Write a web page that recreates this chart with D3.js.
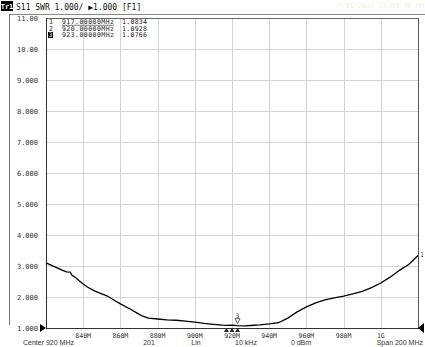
<!DOCTYPE html>
<html><head><meta charset="utf-8">
<script src="https://cdn.jsdelivr.net/npm/d3@7/dist/d3.min.js"></script>
<style>body{margin:0;background:#fff}svg{display:block}</style>
</head><body>
<script>
// ---- data ----
const freqMHz = [820,823,826,829,831,833,834,836,838,840,842,846,850,853,856,860,865,869,872,875,880,885,890,895,900,905,910,915,917,920,923,927,930,935,940,945,950,955,960,965,970,975,980,985,990,995,1000,1005,1010,1015,1020];
const swr     = [3.10,3.02,2.94,2.86,2.81,2.80,2.70,2.62,2.52,2.42,2.33,2.20,2.10,2.03,1.92,1.78,1.62,1.48,1.38,1.32,1.29,1.26,1.25,1.22,1.19,1.15,1.12,1.09,1.0834,1.0928,1.0766,1.07,1.08,1.10,1.13,1.17,1.32,1.52,1.68,1.81,1.91,1.97,2.03,2.10,2.18,2.30,2.45,2.64,2.86,3.05,3.34];
const yTicks = [1,2,3,4,5,6,7,8,9,10,11];
const yTickLabels = ["1.000","2.000","3.000","4.000","5.000","6.000","7.000","8.000","9.000","10.00","11.00"];
const xTicks = [840,860,880,900,920,940,960,980,1000];
const xTickLabels = ["840M","860M","880M","900M","920M","940M","960M","980M","1G"];
const markerIds = ["1","2","3"];
const markerFreqs = [917,920,923];
const markerFreqText = ["917.00000MHz","920.00000MHz","923.00000MHz"];
const markerVals = [1.0834,1.0928,1.0766];
const footerTexts = ["Center 920 MHz","201","Lin","10 kHz","0 dBm","Span 200 MHz"];

const W=425,H=347;
const svg=d3.select("body").append("svg").attr("width",W).attr("height",H);
const x=d3.scaleLinear().domain([820,1020]).range([46,418]);
const y=d3.scaleLinear().domain([1,11]).range([328,18]);
const mono="'DejaVu Sans Mono', monospace";
const sans="'Liberation Sans', Arial, sans-serif";

// outer frame lines
svg.append("line").attr("x1",9).attr("x2",425).attr("y1",14.5).attr("y2",14.5).attr("stroke","#888");
svg.append("line").attr("x1",9.5).attr("x2",9.5).attr("y1",14).attr("y2",325).attr("stroke","#777");

// header
svg.append("rect").attr("x",1).attr("y",1).attr("width",12).attr("height",10).attr("fill","#000");
svg.append("text").attr("x",7).attr("y",9).attr("text-anchor","middle").attr("font-family",mono).attr("font-size",7).attr("font-weight","bold").attr("fill","#fff").text("Tr1");
svg.append("text").attr("x",16).attr("y",9.5).attr("font-family",mono).attr("font-size",8).attr("fill","#111").text("S11 SWR 1.000/ \u25B61.000 [F1]");
svg.append("text").attr("x",337).attr("y",8).attr("font-family",mono).attr("font-size",7).attr("fill","#f3f0d6").attr("textLength",87).text("7/31/2015 12:09:38 PM");

// grid
const g=svg.append("g");
g.selectAll(".hg").data(yTicks.slice(1,-1)).join("line")
  .attr("x1",46).attr("x2",418).attr("y1",d=>Math.round(y(d))+0.5).attr("y2",d=>Math.round(y(d))+0.5)
  .attr("stroke","#d4d4d4");
g.selectAll(".vg").data(xTicks).join("line")
  .attr("y1",18).attr("y2",328).attr("x1",d=>Math.round(x(d))+0.5).attr("x2",d=>Math.round(x(d))+0.5)
  .attr("stroke","#d4d4d4");

// plot border
svg.append("line").attr("x1",46).attr("x2",418).attr("y1",18.5).attr("y2",18.5).attr("stroke","#666");
svg.append("line").attr("x1",418.5).attr("x2",418.5).attr("y1",18).attr("y2",329).attr("stroke","#555");
svg.append("line").attr("x1",46.5).attr("x2",46.5).attr("y1",18).attr("y2",329).attr("stroke","#333");
svg.append("line").attr("x1",46).attr("x2",419).attr("y1",328.5).attr("y2",328.5).attr("stroke","#333");

// y labels
svg.selectAll(".yl").data(yTicks).join("text")
  .attr("x",38).attr("y",d=>y(d)+2.5).attr("text-anchor","end")
  .attr("font-family",mono).attr("font-size",7).attr("fill","#333")
  .text((d,i)=>yTickLabels[i]);

// x labels
svg.selectAll(".xl").data(xTicks).join("text")
  .attr("x",d=>x(d)).attr("y",338).attr("text-anchor","middle")
  .attr("font-family",mono).attr("font-size",6.5).attr("fill","#333")
  .text((d,i)=>i===4?"":xTickLabels[i]);

// footer
const fx=[23,149,196,246,301,423];
const anchors=["start","middle","middle","middle","middle","end"];
svg.selectAll(".ft").data(footerTexts).join("text")
  .attr("x",(d,i)=>fx[i]).attr("y",345).attr("text-anchor",(d,i)=>anchors[i])
  .attr("font-family",sans).attr("font-size",7).attr("fill","#333").text(d=>d);

// trace
const line=d3.line().x(d=>x(d[0])).y(d=>y(d[1]));
svg.append("path").datum(freqMHz.map((f,i)=>[f,swr[i]]))
  .attr("d",line).attr("fill","none").attr("stroke","#000").attr("stroke-width",1.3);

// reference triangles
svg.append("path").attr("d",`M${x(820)-6},${y(1)-4}L${x(820)},${y(1)}L${x(820)-6},${y(1)+4}Z`).attr("fill","#000");
svg.append("path").attr("d",`M${x(1020)+6},${y(1)-5}L${x(1020)},${y(1)}L${x(1020)+6},${y(1)+5}Z`).attr("fill","#000");
svg.append("text").attr("x",x(1020)+2).attr("y",y(3.34)+2).attr("font-family",mono).attr("font-size",6.5).attr("fill","#555").text("1");

// markers on trace
const mk=svg.append("g");
const m3x=x(markerFreqs[2]), m3y=y(markerVals[2]);
mk.append("path").attr("d",`M${m3x-2.5},${m3y-7}L${m3x+2.5},${m3y-7}L${m3x},${m3y-2}Z`).attr("fill","none").attr("stroke","#222").attr("stroke-width",0.7);
mk.append("text").attr("x",m3x).attr("y",m3y-8).attr("text-anchor","middle").attr("font-family",mono).attr("font-size",6).attr("fill","#222").text("3");
[0,1].forEach(i=>{
  const mx=x(markerFreqs[i]);
  mk.append("path").attr("d",`M${mx-2.5},332L${mx+2.5},332L${mx},328Z`).attr("fill","#222");
});
mk.append("path").attr("d",`M${m3x-2.5},332L${m3x+2.5},332L${m3x},328Z`).attr("fill","#222");
mk.append("text").attr("x",x(920)).attr("y",338).attr("text-anchor","middle").attr("font-family",mono).attr("font-size",6.5).attr("fill","#333").text("920M");

// marker table
const rowY=[24,30.5,37];
markerIds.forEach((id,i)=>{
  if(i===2){
    svg.append("rect").attr("x",48).attr("y",rowY[i]-5).attr("width",5).attr("height",6).attr("fill","#000");
    svg.append("text").attr("x",50.5).attr("y",rowY[i]).attr("text-anchor","middle").attr("font-family",mono).attr("font-size",6).attr("fill","#fff").text(id);
  } else {
    svg.append("text").attr("x",49).attr("y",rowY[i]).attr("font-family",mono).attr("font-size",6.5).attr("fill","#222").text(id);
  }
  svg.append("text").attr("x",62).attr("y",rowY[i]).attr("font-family",mono).attr("font-size",6.5).attr("fill","#222").attr("textLength",52).text(markerFreqText[i]);
  svg.append("text").attr("x",122).attr("y",rowY[i]).attr("font-family",mono).attr("font-size",6.5).attr("fill","#222").attr("textLength",25).text(markerVals[i].toFixed(4));
});
svg.append("line").attr("x1",62).attr("x2",114).attr("y1",25.3).attr("y2",25.3).attr("stroke","#222").attr("stroke-width",0.6);
</script>
</body></html>
